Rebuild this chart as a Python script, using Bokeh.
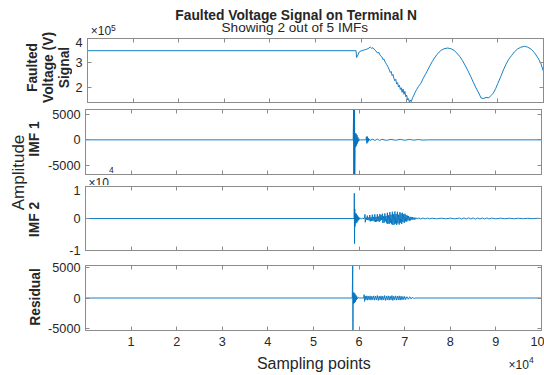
import math
from bokeh.plotting import figure
from bokeh.layouts import row, column
from bokeh.models import Range1d, LinearAxis, FixedTicker, Label
from bokeh.embed import file_html
from bokeh.resources import INLINE

# ---------------- data ----------------
x_ticks = [10000, 20000, 30000, 40000, 50000, 60000, 70000, 80000, 90000, 100000]
x_tick_labels = ["1", "2", "3", "4", "5", "6", "7", "8", "9", "10"]

volt_ticks = [200000, 300000, 400000]
volt_tick_labels = ["2", "3", "4"]
imf1_ticks = [-5000, 0, 5000]
imf1_tick_labels = ["-5000", "0", "5000"]
imf2_ticks = [-10000, 0, 10000]
imf2_tick_labels = ["-1", "0", "1"]
res_ticks = [-5000, 0, 5000]
res_tick_labels = ["-5000", "0", "5000"]

volt_x = [0, 58900, 59000, 59300, 59600, 60000, 60500, 61000, 61500, 62000,
          62300, 62600, 63000, 63300, 63600, 63900, 64200, 64500, 64800, 65000,
          65300, 65600, 65900, 66200, 66400, 66600, 66800, 67000, 67200, 67400,
          67600, 67800, 68000, 68200, 68400, 68600, 68800, 69000, 69200, 69400,
          69600, 69800, 70000, 70200, 70400, 70600, 70800, 71000, 71300, 71600,
          71900, 72200, 72600, 73100, 73600, 74100, 74600, 75100, 75600, 76100,
          76600, 77100, 77600, 78200, 79000, 79700, 80400, 81000, 81600, 82200,
          82800, 83400, 84000, 84600, 85200, 85800, 86300, 86800, 87400, 88000,
          88500, 89000, 89500, 90000, 90600, 91200, 91800, 92400, 93000, 93600,
          94300, 95000, 95800, 96500, 97300, 98000, 98800, 99400, 100000]
volt_y = [350000, 350000, 322000, 332000, 345000, 349000, 352000, 355000, 358000, 365000,
          360000, 362000, 353000, 348000, 340000, 343000, 330000, 326000, 313000, 316000,
          302000, 293000, 283000, 270000, 260000, 264000, 247000, 252000, 235000, 226000,
          232000, 212000, 218000, 200000, 207000, 190000, 197000, 178000, 192000, 170000,
          182000, 160000, 166000, 147000, 152000, 137000, 146000, 140000, 156000, 167000,
          180000, 190000, 203000, 215000, 235000, 252000, 270000, 288000, 305000, 320000,
          333000, 344000, 352000, 358000, 361000, 358000, 351000, 340000, 327000, 310000,
          290000, 268000, 245000, 220000, 196000, 175000, 155000, 152000, 157000, 155000,
          165000, 175000, 193000, 215000, 242000, 270000, 295000, 315000, 330000, 345000,
          357000, 364000, 368000, 365000, 356000, 342000, 320000, 298000, 264000]

imf1_x = [0, 58700, 58800, 58850, 58900, 58950, 59000, 59050, 59150, 59250,
          59350, 59450, 59550, 59650, 59750, 59850, 59950, 60100, 60300, 61500,
          61600, 61700, 61800, 61900, 62000, 62100, 62200, 62400, 62600, 63000,
          63500, 64000, 64500, 65000, 66000, 67000, 68000, 69000, 70000, 71000,
          72000, 73000, 74000, 75000, 100000]
imf1_y = [0, 0, 5920, -6760, 5920, -6760, 5920, -6760, 1300, -1400,
          1200, -1100, 900, -700, 500, -300, 200, -100, 0, 0,
          600, -700, 650, -500, 350, -250, 150, -100, 0, 120,
          -120, 150, -120, 100, -100, 100, -80, 100, -80, 80,
          -60, 60, -50, 0, 0]

imf2_x = [0, 58900, 58950, 59000, 59050, 59100, 59200, 59300, 59400, 59500,
          59600, 59700, 59800, 59900, 60000, 60150, 60300, 60500, 60800, 61100,
          61300, 61350, 61500, 61650, 61800, 61900, 62050, 62200, 62350, 62450,
          62600, 62750, 62900, 63000, 63150, 63300, 63450, 63550, 63700, 63850,
          64000, 64100, 64250, 64400, 64550, 64650, 64800, 64950, 65100, 65200,
          65350, 65500, 65650, 65750, 65900, 66050, 66200, 66300, 66450, 66600,
          66750, 66850, 67000, 67150, 67300, 67400, 67550, 67700, 67850, 67950,
          68100, 68250, 68400, 68500, 68650, 68800, 68950, 69050, 69200, 69350,
          69500, 69600, 69750, 69900, 70050, 70150, 70300, 70450, 70600, 70700,
          70850, 71000, 71150, 71250, 71400, 71550, 71700, 71800, 71950, 72100,
          72250, 72400, 72600, 72800, 73000, 73500, 74000, 74500, 75000, 75500,
          76000, 77000, 78000, 79000, 80000, 81000, 82000, 82500, 83000, 83500,
          84000, 84500, 85000, 85500, 86000, 86500, 87000, 87500, 88000, 88500,
          89000, 90000, 91000, 92000, 93000, 94000, 95000, 96000, 97000, 98000,
          99000, 100000]
imf2_y = [0, 0, 7900, -7900, 3000, -2500, 1600, -1500, 1500, -1300,
          1000, -900, 600, -500, 300, -200, 100, -80, 60, -50,
          1300, -1200, 300, -400, 900, -500, 300, -600, 1100, -900,
          400, -800, 1200, -700, 500, -900, 1300, -1100, 500, -1000,
          1300, -800, 600, -1100, 1400, -700, 1100, -500, 1500, -1400,
          700, -1300, 1600, -900, 800, -1500, 1800, -1700, 1000, -1700,
          2000, -1400, 1200, -1800, 2100, -2000, 1300, -1900, 2200, -1600,
          1400, -2000, 2100, -1500, 1200, -1900, 2000, -1300, 1600, -1700,
          1800, -1100, 1300, -1400, 1500, -900, 1100, -1000, 900, -600,
          800, -700, 500, -600, 500, -350, 450, -400, 250, -350,
          300, -250, 200, -200, 200, -150, 150, -120, 130, -120,
          100, -100, 100, -80, 100, -100, 150, -180, 180, -150,
          200, -150, 180, -200, 150, -150, 150, -150, 180, -150,
          120, -100, 100, -80, 80, -80, 80, -60, 60, -50,
          50, 0]

res_x = [0, 58500, 58600, 58650, 58700, 58800, 58900, 59000, 59100, 59200,
         59300, 59400, 59500, 59600, 59800, 60000, 61000, 61100, 61200, 61350,
         61500, 61700, 61850, 62000, 62200, 62400, 62600, 62800, 63000, 63200,
         63400, 63600, 63800, 64000, 64200, 64400, 64600, 64800, 65000, 65200,
         65400, 65600, 65800, 66000, 66200, 66400, 66600, 66800, 67000, 67200,
         67400, 67600, 67800, 68000, 68200, 68400, 68600, 68800, 69000, 69200,
         69400, 69600, 69800, 70000, 70200, 70500, 70800, 71100, 71400, 71700,
         72000, 72300, 100000]
res_y = [0, 0, 5280, -5280, 900, -900, 850, -800, 700, -600,
         450, -350, 250, -150, 80, 0, 0, 550, -550, 300,
         -300, 350, -350, 300, -300, 350, -350, 300, -300, 350,
         -350, 300, -300, 400, -400, 300, -300, 350, -350, 300,
         -300, 400, -400, 300, -300, 350, -350, 300, -300, 400,
         -400, 300, -300, 350, -350, 300, -300, 350, -350, 300,
         -300, 250, -250, 250, -250, 200, -200, 200, -150, 150,
         -100, 0, 0]

# ---------------- style ----------------
FONT = "Liberation Sans"
TXT = "#262626"
AXC = "#8c8c8c"
LINE = "#0072BD"
FW = 456          # frame width  (page x 84 .. 540)
RB = 3            # right border


def style_axis(ax, ticks, labels=None, standoff=0):
    ax.ticker = FixedTicker(ticks=ticks)
    ax.axis_line_color = AXC
    ax.major_tick_line_color = AXC
    ax.minor_tick_line_color = None
    ax.major_tick_in = 4
    ax.major_tick_out = 0
    ax.major_label_text_font = FONT
    if labels is None:
        ax.major_label_text_font_size = "0px"
        ax.major_label_text_color = None
        ax.major_label_standoff = 0
    else:
        ax.major_label_text_color = TXT
        ax.major_label_text_font_size = "12.7px"
        ax.major_label_standoff = standoff
        ax.major_label_overrides = {t: l for t, l in zip(ticks, labels)}


def add_label(p, x, y, text, size, bold=False, angle=0.0, align="left"):
    p.add_layout(Label(x=x, y=y, x_units="screen", y_units="screen", text=text,
                       text_font=FONT, text_font_size=size,
                       text_font_style="bold" if bold else "normal",
                       text_color=TXT, angle=angle, text_align=align,
                       text_baseline="middle"))


def text_box(w, h):
    t = figure(frame_width=w, frame_height=h, x_range=Range1d(0, 1), y_range=Range1d(0, 1),
               output_backend="svg", toolbar_location=None, min_border=0,
               x_axis_location=None, y_axis_location=None)
    t.grid.visible = False
    t.outline_line_color = None
    t.border_fill_color = "white"
    t.background_fill_color = "white"
    return t


def panel(fh, bl, bt, bb, yr, yticks, ylabels, xlabels=None):
    p = figure(frame_width=FW, frame_height=fh,
               x_range=Range1d(0, 100000), y_range=Range1d(*yr),
               output_backend="svg", toolbar_location=None,
               min_border_left=bl, min_border_right=RB,
               min_border_top=bt, min_border_bottom=bb)
    p.grid.visible = False
    p.outline_line_color = AXC
    p.background_fill_color = "white"
    p.border_fill_color = "white"
    style_axis(p.xaxis[0], x_ticks, xlabels, 6)
    style_axis(p.yaxis[0], yticks, ylabels, 5)
    top = LinearAxis()
    style_axis(top, x_ticks)
    p.add_layout(top, "above")
    right = LinearAxis()
    style_axis(right, yticks)
    p.add_layout(right, "right")
    return p


PN_W = 39 + FW + RB            # page x 45 .. 543
HALF = math.pi / 2

# ---- top block: page y 0..105 ----
# (boxes stacked with panels get their frame aligned to the panel frame: page x 84..540)
title_box = text_box(FW, 37)
add_label(title_box, 208.7, 22.0, "Faulted Voltage Signal on Terminal N", "13.8px", True, 0, "center")
add_label(title_box, 207.3, 9.8, "Showing 2 out of 5 IMFs", "13.6px", False, 0, "center")
add_label(title_box, 3.3, 6.8, "\u00d710", "12px")
add_label(title_box, 23.5, 9.9, "5", "8.5px")

p1 = panel(64, 12, 1, 3, (136000, 400300), volt_ticks, volt_tick_labels)
p1.line(volt_x, volt_y, line_color=LINE, line_width=0.9)

lb1 = text_box(72, 105)                            # page x 0..72, y 0..105
add_label(lb1, 31.5, 38, "Faulted", "13.8px", True, HALF, "center")
add_label(lb1, 47.5, 38, "Voltage (V)", "13.8px", True, HALF, "center")
add_label(lb1, 63.8, 38, "Signal", "13.8px", True, HALF, "center")

# ---- middle block: page y 105..352 ----
p2 = panel(65, 39, 4, 1, (-6760, 5920), imf1_ticks, imf1_tick_labels)
p2.line(imf1_x, imf1_y, line_color=LINE, line_width=0.9)
add_label(p2, 23.5, 4.8, "4", "8.5px")

gap_box = text_box(FW, 10)                         # page x 84..540, y 175..185
add_label(gap_box, 3, 4.9, "\u00d710", "12px")

p3 = panel(64, 39, 1, 7, (-10030, 10030), imf2_ticks, imf2_tick_labels)
p3.line(imf2_x, imf2_y, line_color=LINE, line_width=0.9)

p4 = panel(65, 39, 8, 22, (-5280, 5280), res_ticks, res_tick_labels, x_tick_labels)
p4.line(res_x, res_y, line_color=LINE, line_width=0.9)

lb2 = text_box(45, 247)                            # page x 0..45, y 105..352
add_label(lb2, 17.8, 180, "Amplitude", "17px", False, HALF, "center")
add_label(lb2, 34.3, 213.5, "IMF 1", "13.8px", True, HALF, "center")
add_label(lb2, 34.0, 133, "IMF 2", "13.8px", True, HALF, "center")
add_label(lb2, 34.5, 55.5, "Residual", "13.8px", True, HALF, "center")

# ---- bottom block: page y 352..374 ----
bottom_box = text_box(45 + PN_W, 22)
add_label(bottom_box, 313.3, 11.5, "Sampling points", "16px", False, 0, "center")
add_label(bottom_box, 508, 9.7, "\u00d710", "12px")
add_label(bottom_box, 528.5, 14.1, "4", "8.5px")

layout = column(row(lb1, column(title_box, p1)),
                row(lb2, column(p2, gap_box, p3, p4)),
                bottom_box)

open("out.html", "w").write(file_html(layout, INLINE))
